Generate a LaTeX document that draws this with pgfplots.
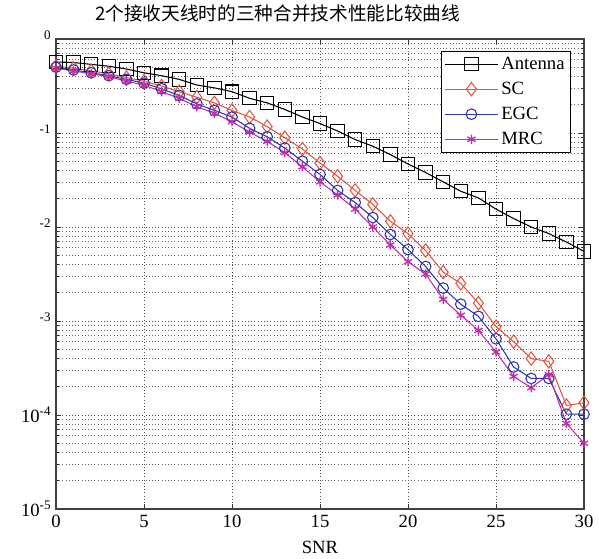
\documentclass[border=0pt]{standalone}
\usepackage{fontspec}
\setmainfont{Liberation Serif}
\newfontfamily\cjk{Noto Sans CJK SC}
\usepackage{pgfplots}
\usepackage{pgfplotstable}
\pgfplotsset{compat=1.18}
\usetikzlibrary{calc}
\definecolor{sccol}{RGB}{225,85,65}
\definecolor{egccol}{RGB}{45,55,170}
\definecolor{mrccol}{RGB}{190,45,170}
\pgfplotstableread{
x ant sc egc mrc
0  0.569  0.513  0.501  0.490
1  0.562  0.490  0.468  0.457
2  0.537  0.457  0.437  0.427
3  0.513  0.427  0.407  0.398
4  0.479  0.389  0.372  0.355
5  0.437  0.355  0.339  0.324
6  0.407  0.316  0.295  0.275
7  0.372  0.275  0.251  0.234
8  0.324  0.240  0.204  0.191
9  0.302  0.209  0.174  0.162
10 0.275  0.174  0.148  0.132
11 0.234  0.148  0.112  0.102
12 0.209  0.117  0.0912 0.0813
13 0.178  0.0891 0.0692 0.0617
14 0.148  0.0676 0.0501 0.0437
15 0.126  0.0479 0.0363 0.0302
16 0.105  0.0347 0.0245 0.0219
17 0.0851 0.0245 0.0182 0.0155
18 0.0724 0.0174 0.0126 0.0100
19 0.0589 0.0115 0.00832 0.00646
20 0.0468 0.00851 0.00575 0.00427
21 0.0380 0.00562 0.00380 0.00316
22 0.0302 0.00331 0.00224 0.00170
23 0.0240 0.00251 0.00151 0.00115
24 0.0204 0.00155 0.00112 0.000794
25 0.0155 0.000871 0.000646 0.000468
26 0.0123 0.000603 0.000324 0.000257
27 0.0100 0.000398 0.000245 0.000195
28 0.00851 0.000372 0.000245 0.000269
29 0.00692 0.000126 0.000102 0.0000813
30 0.00550 0.000135 0.000102 0.0000501
}\data
\begin{document}
\begin{tikzpicture}
\begin{axis}[
  width=396pt, height=352.5pt, scale only axis,
  ymode=log, xmin=0, xmax=30, ymin=1e-5, ymax=1,
  xtick={0,5,...,30},
  ytick={1e-5,1e-4,1e-3,1e-2,1e-1,1},
  yticklabels={10\textsuperscript{-5},10\textsuperscript{-4},\vphantom{10}\textsuperscript{-3},\vphantom{10}\textsuperscript{-2},\vphantom{10}\textsuperscript{-1},\vphantom{10}\textsuperscript{0}},
  /pgf/number format/assume math mode=true,
  tick label style={font=\fontsize{14}{16}\selectfont},
  xticklabel style={yshift=-1pt},
  xlabel={SNR},
  xlabel style={font=\fontsize{14}{16}\selectfont, yshift=-3pt},
  title={\cjk 2个接收天线时的三种合并技术性能比较曲线},
  title style={font=\fontsize{14}{17}\selectfont, at={(0.42,1)}, anchor=south, yshift=3pt},
  xmajorgrids, ymajorgrids, yminorgrids,
  major grid style={dotted, black!70, line width=0.6pt},
  minor grid style={dotted, black!60, line width=0.6pt},
  tick align=inside,
  major tick length=4pt, minor tick length=2.5pt,
  axis line style={black!75, line width=1pt},
  every tick/.style={black!80, line width=0.6pt},
  legend style={at={(0.975,0.975)}, anchor=north east, font=\fontsize{14}{16}\selectfont, draw=black, inner sep=2.5pt, row sep=4pt, cells={anchor=west}},
  legend image code/.code={\draw[mark repeat=2, mark phase=2, #1] plot coordinates {(0pt,0pt) (20pt,0pt) (40pt,0pt)};},
]
\addplot[black, line width=0.8pt, mark=square, mark size=5pt, mark options={solid, line width=0.8pt}] table[x=x, y=ant] {\data};
\addlegendentry{Antenna}
\addplot[sccol, line width=0.8pt, mark=diamond, mark size=5pt, mark options={solid, line width=0.8pt}] table[x=x, y=sc] {\data};
\addlegendentry{SC}
\addplot[egccol, line width=0.8pt, mark=o, mark size=4pt, mark options={solid, line width=0.8pt}] table[x=x, y=egc] {\data};
\addlegendentry{EGC}
\addplot[mrccol, line width=0.8pt, mark=asterisk, mark size=3.5pt, mark options={solid, line width=1pt}] table[x=x, y=mrc] {\data};
\addlegendentry{MRC}
\end{axis}
\pgfresetboundingbox
\path ($(current axis.south west)+(-42pt,-37.5pt)$) rectangle ($(current axis.north east)+(11.25pt,29.25pt)$);
\end{tikzpicture}
\end{document}
